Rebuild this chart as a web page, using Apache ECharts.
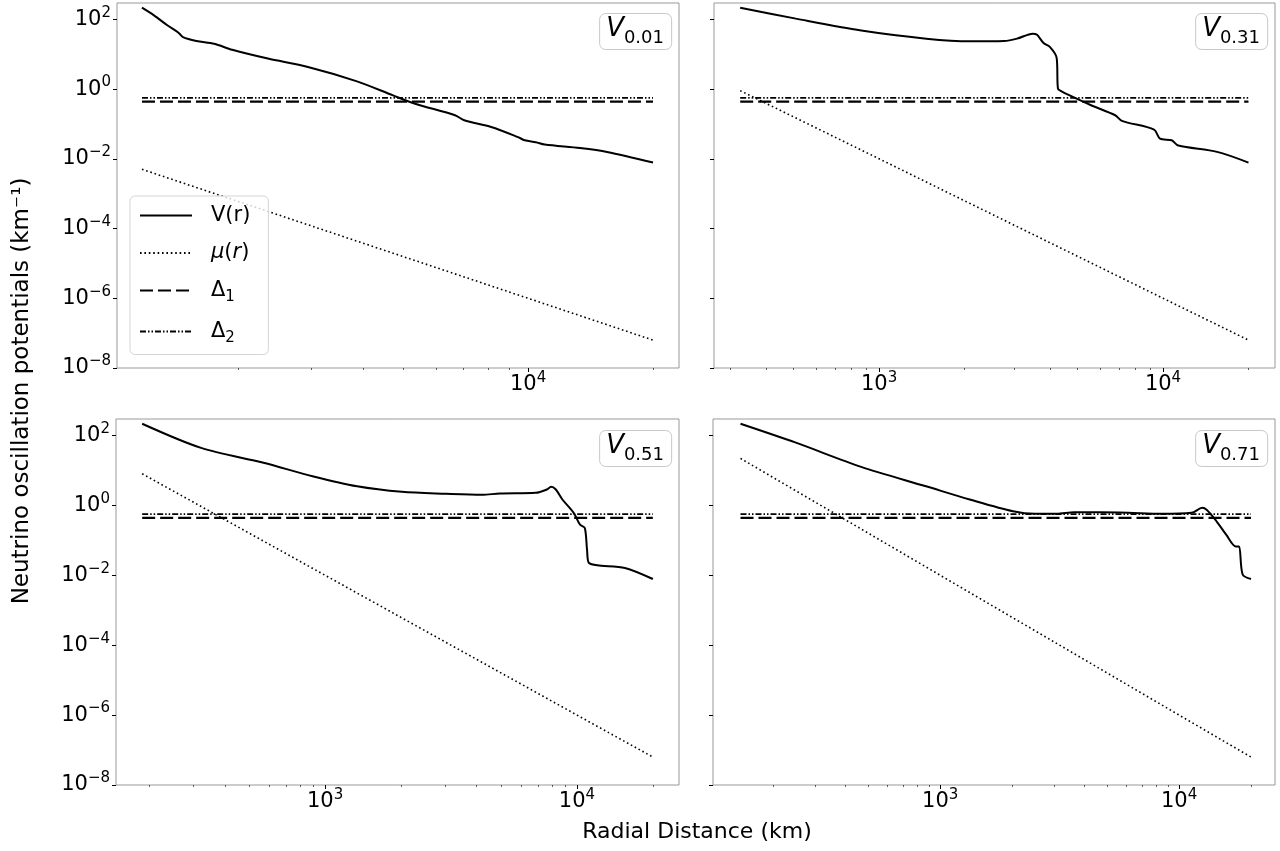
<!DOCTYPE html>
<html>
<head>
<meta charset="utf-8">
<script src="https://cdn.jsdelivr.net/npm/echarts@6/dist/echarts.min.js"></script>
<style>
  html, body { margin: 0; padding: 0; background: #fff; }
  #chart { width: 1280px; height: 851px; }
</style>
</head>
<body>
<div id="chart"></div>
<script>
// panels: top-left, top-right, bottom-left, bottom-right
const panelNames = ['0.01', '0.31', '0.51', '0.71'];

// V(r) (r in km, V in km^-1)
const rV1 = [1175, 1256, 1352, 1439, 1475, 1589, 1754, 1938, 2362, 2950, 3872, 4730, 5345, 6670, 7020, 8150, 9460, 9820, 10440, 10970, 13340, 15500, 20000];
const vV1 = [216, 130, 68, 41.5, 31, 24, 20, 13.4, 7.5, 4.3, 1.67, 0.66, 0.38, 0.178, 0.128, 0.082, 0.042, 0.034, 0.030, 0.0257, 0.0204, 0.0158, 0.0078];

const rV2 = [324, 509, 865, 1466, 2085, 2755, 3060, 3475, 3600, 3795, 4000, 4220, 4265, 4375, 4690, 5580, 6780, 7160, 9300, 9760, 10730, 11320, 15500, 20000];
const vV2 = [216, 105, 48, 28, 23.4, 23.9, 28, 39, 36, 21, 16, 7.9, 1.03, 0.88, 0.66, 0.345, 0.178, 0.123, 0.069, 0.038, 0.034, 0.024, 0.0158, 0.0078];

const rV3 = [188, 322, 570, 892, 1340, 2018, 3020, 4200, 4940, 6850, 7590, 7890, 8240, 8750, 9700, 10280, 10740, 10960, 11170, 15500, 20000];
const vV3 = [216, 44, 16.5, 6.8, 3.5, 2.43, 2.14, 2.0, 2.18, 2.28, 2.84, 3.4, 2.84, 1.47, 0.61, 0.28, 0.226, 0.054, 0.0223, 0.0162, 0.0078];

const rV4 = [146, 249, 467, 873, 1330, 2020, 2490, 3070, 3640, 4670, 6120, 8410, 11270, 12500, 13040, 14170, 15740, 17270, 17820, 18450, 20000];
const vV4 = [216, 62, 12.6, 3.5, 1.47, 0.675, 0.57, 0.57, 0.63, 0.63, 0.61, 0.57, 0.61, 0.85, 0.75, 0.39, 0.146, 0.067, 0.067, 0.0105, 0.0078];

// mu(r) dotted line
const rMu1 = [1175, 3000, 10000, 20000];
const vMu1 = [5.0e-3, 1.2e-4, 1.0e-6, 6.3e-8];
const rMu2 = [324, 1000, 10000, 20000];
const vMu2 = [0.9, 1e-2, 1e-6, 6.3e-8];
const rMu3 = [188, 1000, 10000, 20000];
const vMu3 = [8, 1e-2, 1e-6, 6.3e-8];
const rMu4 = [146, 1000, 10000, 20000];
const vMu4 = [22, 1e-2, 1e-6, 6.3e-8];

// constant levels
const delta1 = 0.44;
const delta2 = 0.56;

// axis ticks
const yTicks = [1e-8, 1e-6, 1e-4, 1e-2, 1, 1e2];
const xMajor = [1e2, 1e3, 1e4];
const xMinor = [200, 300, 400, 500, 600, 700, 800, 900, 2000, 3000, 4000, 5000, 6000, 7000, 8000, 9000, 20000];

const rV = [rV1, rV2, rV3, rV4];
const vV = [vV1, vV2, vV3, vV4];
const rMu = [rMu1, rMu2, rMu3, rMu4];
const vMu = [vMu1, vMu2, vMu3, vMu4];

// layout
const grids = [
  { left: 117, top: 3, width: 562, height: 365 },
  { left: 714, top: 3, width: 561, height: 365 },
  { left: 116, top: 419, width: 563, height: 366 },
  { left: 713, top: 419, width: 562, height: 366 }
];
const xMin = [1023, 262, 148, 112];
const xMax = [23100, 24800, 25400, 25200];
const yMin = 1e-8, yMax = 295;

const FONT = 'DejaVu Sans';
function powLabel(v) {
  var e = Math.round(Math.log10(v));
  return '{b|10}{s|' + (e < 0 ? '−' + (-e) : e) + '}';
}
const powRich = {
  b: { fontFamily: FONT, fontSize: 21, color: '#000', lineHeight: 28 },
  s: { fontFamily: FONT, fontSize: 15, color: '#000', verticalAlign: 'top' }
};
function zip(a, b) {
  return a.map(function (x, i) { return [x, b[i]]; });
}

var xAxes = [], yAxes = [], series = [], titles = [];
grids.forEach(function (g, i) {
  xAxes.push({
    type: 'log', gridIndex: i, position: 'bottom', min: xMin[i], max: xMax[i],
    axisLine: { show: false },
    splitLine: { show: false },
    axisTick: { customValues: xMajor, length: 4, lineStyle: { color: '#000', width: 1 } },
    axisLabel: { customValues: xMajor, formatter: powLabel, margin: 3, rich: powRich }
  });
  xAxes.push({
    type: 'log', gridIndex: i, position: 'bottom', min: xMin[i], max: xMax[i],
    axisLine: { show: false },
    splitLine: { show: false },
    axisTick: { customValues: xMinor, length: 2, lineStyle: { color: '#333', width: 0.8 } },
    axisLabel: { show: false }
  });
  yAxes.push({
    type: 'log', gridIndex: i, min: yMin, max: yMax,
    axisLine: { show: false },
    splitLine: { show: false },
    axisTick: { customValues: yTicks, length: 4, lineStyle: { color: '#000', width: 1 } },
    axisLabel: {
      show: i % 2 === 0, customValues: yTicks, formatter: powLabel, margin: 6, rich: powRich
    }
  });

  var r0 = rV[i][0], r1 = rV[i][rV[i].length - 1];
  series.push({
    name: 'V(r)', type: 'line', xAxisIndex: 2 * i, yAxisIndex: i,
    data: zip(rV[i], vV[i]), symbol: 'none', smooth: 0.3,
    lineStyle: { color: '#000', width: 2, type: 'solid' }
  });
  series.push({
    name: 'μ(r)', type: 'line', xAxisIndex: 2 * i, yAxisIndex: i,
    data: zip(rMu[i], vMu[i]), symbol: 'none',
    lineStyle: { color: '#000', width: 1.6, type: [1.6, 2.8] }
  });
  series.push({
    name: 'Δ1', type: 'line', xAxisIndex: 2 * i, yAxisIndex: i,
    data: [[r0, delta1], [r1, delta1]], symbol: 'none',
    lineStyle: { color: '#000', width: 2.2, type: [13, 5] }
  });
  series.push({
    name: 'Δ2', type: 'line', xAxisIndex: 2 * i, yAxisIndex: i,
    data: [[r0, delta2], [r1, delta2]], symbol: 'none',
    lineStyle: { color: '#000', width: 1.6, type: [6, 2, 1.5, 2, 1.5, 2] }
  });

  titles.push({
    text: '{v|V}{s|' + panelNames[i] + '}',
    right: i % 2 === 0 ? 608 : 12,
    top: i < 2 ? 8 : 425,
    padding: [3, 8, 3, 7],
    borderColor: '#c8c8c8', borderWidth: 1, borderRadius: 6,
    backgroundColor: '#fff',
    textStyle: {
      fontWeight: 'normal',
      rich: {
        v: { fontFamily: FONT, fontStyle: 'italic', fontWeight: 'normal', fontSize: 26, color: '#000', lineHeight: 36 },
        s: { fontFamily: FONT, fontWeight: 'normal', fontSize: 18, color: '#000', verticalAlign: 'bottom' }
      }
    }
  });
});

var chart = echarts.init(document.getElementById('chart'));
chart.setOption({
  animation: false,
  backgroundColor: '#fff',
  title: titles,
  grid: grids.map(function (g) {
    return Object.assign({ show: true, borderColor: '#999', borderWidth: 1, backgroundColor: 'transparent' }, g);
  }),
  xAxis: xAxes,
  yAxis: yAxes,
  legend: {
    data: ['V(r)', 'μ(r)', 'Δ1', 'Δ2'],
    orient: 'vertical', left: 130, top: 196,
    itemWidth: 52, itemHeight: 14, itemGap: 16.5,
    padding: [9, 18, 9, 9],
    borderColor: '#d5d5d5', borderWidth: 1, borderRadius: 5,
    backgroundColor: 'rgba(255,255,255,0.8)',
    itemStyle: { opacity: 0 },
    formatter: function (name) {
      if (name === 'μ(r)') return '{i|μ}{n|(}{i|r}{n|)}';
      if (name === 'Δ1') return '{n|Δ}{d|1}';
      if (name === 'Δ2') return '{n|Δ}{d|2}';
      return '{n|' + name + '}';
    },
    textStyle: {
      fontFamily: FONT, fontSize: 21, color: '#000', padding: [0, 0, 0, 14],
      rich: {
        n: { fontFamily: FONT, fontSize: 21, color: '#000', lineHeight: 28 },
        i: { fontFamily: FONT, fontSize: 21, fontStyle: 'italic', color: '#000', lineHeight: 28 },
        d: { fontFamily: FONT, fontSize: 15, color: '#000', verticalAlign: 'bottom' }
      }
    }
  },
  graphic: [
    {
      type: 'text', x: 22, y: 391, rotation: Math.PI / 2,
      style: {
        text: 'Neutrino oscillation potentials (km⁻¹)', fontFamily: FONT, fontSize: 23,
        fill: '#000', align: 'center', verticalAlign: 'middle'
      }
    },
    {
      type: 'text', x: 697, y: 832,
      style: {
        text: 'Radial Distance (km)', fontFamily: FONT, fontSize: 22,
        fill: '#000', align: 'center', verticalAlign: 'middle'
      }
    }
  ],
  series: series
});
</script>
</body>
</html>
